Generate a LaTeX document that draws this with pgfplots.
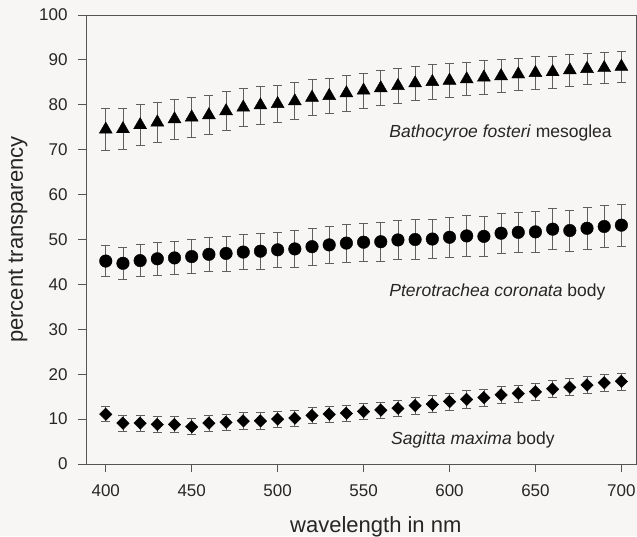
\documentclass[border=0pt]{standalone}
\usepackage{pgfplots}
\pgfplotsset{compat=1.18}
\usepackage{pgfplotstable}
\usepackage{fontspec}
\setmainfont{Liberation Sans}
\definecolor{bgc}{RGB}{248,246,244}
\definecolor{axc}{RGB}{85,85,85}
\definecolor{errc}{RGB}{95,95,95}

\pgfplotstableread{
x    tri  etri circ ecirc dia  edia
400  74.5 4.6  45.2 3.5   11.1 1.7
410  74.6 4.6  44.7 3.6   9.1  1.8
420  75.5 4.5  45.3 3.6   9.1  1.8
430  76.1 4.5  45.7 3.7   8.8  1.8
440  76.8 4.4  45.9 3.7   8.8  1.8
450  77.2 4.4  46.2 3.8   8.3  1.8
460  77.7 4.3  46.7 3.8   9.1  1.8
470  78.6 4.3  46.9 3.9   9.3  1.8
480  79.4 4.2  47.2 3.9   9.6  1.8
490  79.9 4.2  47.4 4.0   9.6  1.8
500  80.2 4.1  47.7 4.0   10.0 1.8
510  80.8 4.1  47.9 4.1   10.2 1.8
520  81.6 4.0  48.4 4.1   10.8 1.8
530  82.0 4.0  48.8 4.2   11.1 1.8
540  82.6 4.0  49.2 4.2   11.3 1.8
550  83.2 3.9  49.4 4.3   11.7 1.8
560  83.7 3.9  49.5 4.3   12.0 1.8
570  84.2 3.9  49.9 4.3   12.4 1.8
580  84.8 3.8  50.0 4.4   13.0 1.9
590  85.1 3.8  50.1 4.4   13.3 1.9
600  85.4 3.8  50.5 4.4   13.9 1.9
610  85.7 3.7  50.8 4.5   14.4 1.9
620  86.1 3.7  50.7 4.5   14.8 1.9
630  86.4 3.7  51.4 4.5   15.4 1.9
640  86.8 3.6  51.6 4.5   15.7 1.9
650  87.1 3.6  51.7 4.6   16.1 1.9
660  87.3 3.6  52.3 4.6   16.7 1.9
670  87.7 3.5  52.0 4.6   17.1 1.9
680  88.0 3.5  52.5 4.6   17.6 1.9
690  88.2 3.4  52.9 4.7   18.1 1.9
700  88.5 3.4  53.2 4.7   18.4 1.9
}\datatable

\begin{document}
\begin{tikzpicture}
\useasboundingbox (-86pt,-72pt) rectangle (551pt,464pt);
\fill[bgc] (-86pt,-72pt) rectangle (551pt,464pt);
\begin{axis}[
  scale only axis,
  width=550pt, height=449pt,
  xmin=388.5, xmax=708.5,
  ymin=0, ymax=100,
  xtick={400,450,...,700},
  ytick={0,10,...,100},
  tick align=outside,
  xtick pos=lower, ytick pos=left,
  major tick length=8pt,
  axis line style={axc, line width=0.8pt},
  tick style={axc, line width=0.8pt},
  tick label style={font=\fontsize{17}{20}\selectfont, text=black!85},
  yticklabel style={xshift=-7pt},
  xticklabel style={yshift=-9pt},
  /pgf/number format/assume math mode=true,
  xlabel={wavelength in nm},
  ylabel={percent transparency},
  label style={font=\fontsize{22}{26}\selectfont, text=black!85},
  xlabel style={at={(axis description cs:0.527,0)}, anchor=base, yshift=-68pt},
  ylabel style={at={(axis description cs:-0.1236,0.5)}, anchor=center, rotate=0},
  every axis plot/.append style={only marks, black},
  error bars/error bar style={errc, line width=0.7pt},
  error bars/error mark options={rotate=90, mark size=4.5pt, errc, line width=0.7pt},
]
\addplot+[mark=triangle*, mark size=7.5pt, mark options={fill=black, draw=black},
  error bars/.cd, y dir=both, y explicit]
  table[x=x, y=tri, y error=etri] {\datatable};
\addplot+[mark=*, mark size=6.3pt, mark options={fill=black, draw=black},
  error bars/.cd, y dir=both, y explicit]
  table[x=x, y=circ, y error=ecirc] {\datatable};
\addplot+[mark=square*, mark size=4.3pt, mark options={fill=black, draw=black, rotate=45, yscale=1.05},
  error bars/.cd, y dir=both, y explicit]
  table[x=x, y=dia, y error=edia] {\datatable};
\node[anchor=west, font=\fontsize{17.5}{20}\selectfont, text=black!85] at (axis cs:563,73.7) {\textit{Bathocyroe fosteri} mesoglea};
\node[anchor=west, font=\fontsize{17.5}{20}\selectfont, text=black!85] at (axis cs:563,38.4) {\textit{Pterotrachea coronata} body};
\node[anchor=west, font=\fontsize{17.5}{20}\selectfont, text=black!85] at (axis cs:564,5.3) {\textit{Sagitta maxima} body};
\end{axis}
\end{tikzpicture}
\end{document}
